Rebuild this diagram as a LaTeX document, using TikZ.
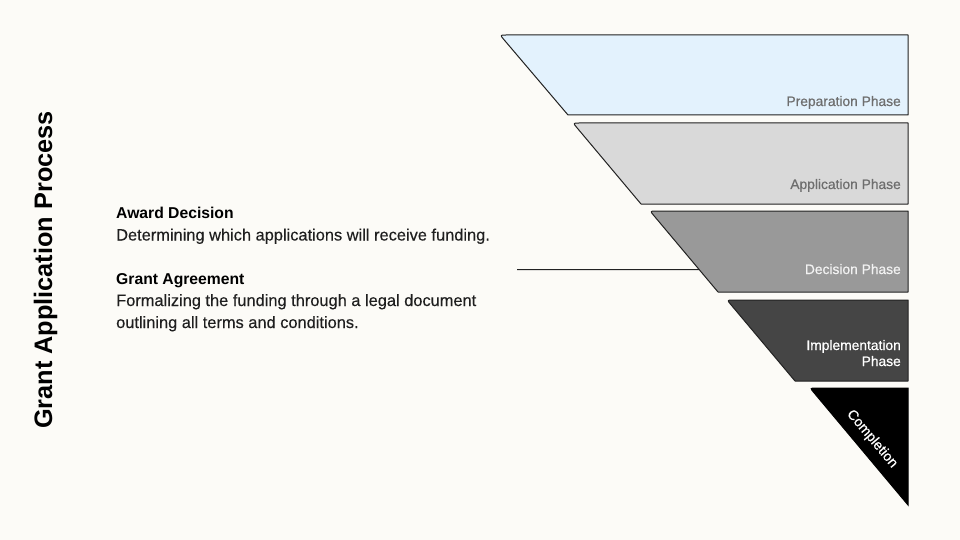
\documentclass[tikz,border=0pt]{standalone}
\usepackage{fontspec}
\setmainfont{Liberation Sans}
\newfontfamily\medfont[FakeBold=0.6]{Liberation Sans}
\newfontfamily\bodyfont[FakeBold=0.25]{Liberation Sans}
\usetikzlibrary{calc}
\definecolor{bgc}{HTML}{FCFBF7}
\definecolor{edgec}{HTML}{222222}
\definecolor{prepc}{HTML}{E3F2FD}
\definecolor{applc}{HTML}{D9D9D9}
\definecolor{decic}{HTML}{999999}
\definecolor{implc}{HTML}{454545}
\definecolor{complc}{HTML}{000000}
\definecolor{lblgray}{HTML}{6E6E6E}
\definecolor{lbllight}{HTML}{F2F2F2}
\definecolor{textc}{HTML}{1F1F1F}
\tikzset{
  bandshape/.style={draw=edgec, line width=1pt, line join=round},
  phaselabel/.style={anchor=base east, inner sep=0pt, font=\medfont\fontsize{13.8}{16}\selectfont, align=right},
  headtext/.style={anchor=base west, inner sep=0pt, font=\fontsize{15.7}{18}\selectfont\bfseries, text=black},
  bodytext/.style={anchor=base west, inner sep=0pt, font=\bodyfont\fontsize{16.4}{18}\selectfont, text=textc},
  leader/.style={draw=edgec, line width=1pt}
}
\newcommand{\fband}[5]{% top-left x, top y, bottom-left x, bottom y, fill
  \coordinate (T) at (#1,#2);
  \coordinate (B) at (#3,#4);
  \filldraw[bandshape, fill=#5]
    ($(T)+(6,0)$) -- (908,#2) -- (908,#4) -- (B) -- ($(T)!6pt!(B)$)
    .. controls (T) .. ($(T)+(6,0)$) -- cycle;
}
\begin{document}
\begin{tikzpicture}[x=1pt,y=-1pt]
\fill[bgc] (0,0) rectangle (960,540);
\useasboundingbox (0,0) rectangle (960,540);

% funnel bands
\fband{500}{35}{568}{115}{prepc}
\fband{573}{123}{641}{204}{applc}
\fband{650}{211}{718}{292}{decic}
\fband{727}{300}{795}{381}{implc}
% completion triangle
\coordinate (CT) at (810,388);
\coordinate (CB) at (908,505);
\filldraw[draw=complc, fill=complc, line width=1pt]
  ($(CT)+(6,0)$) -- (908,388) -- (CB) -- ($(CT)!6pt!(CB)$)
  .. controls (CT) .. ($(CT)+(6,0)$) -- cycle;

% phase labels
\node[phaselabel, text=lblgray] (prep) at (901,106) {Preparation Phase};
\node[phaselabel, text=lblgray] (appl) at (901,189) {Application Phase};
\node[phaselabel, text=lbllight] (deci) at (901,274) {Decision Phase};
\node[phaselabel, text=white] (impl1) at (901,350) {Implementation};
\node[phaselabel, text=white] (impl2) at (901,366) {Phase};
\node[inner sep=0pt, rotate=-50, text=white, font=\medfont\fontsize{14}{16}\selectfont] (compl) at (872,439) {Completion};

% title
\node[rotate=90, inner sep=0pt, font=\fontsize{25.3}{28}\selectfont\bfseries, text=black] (title) at (45.5,270) {Grant Application Process};

% descriptions
\node[headtext] (h1) at (116,218.5) {Award Decision};
\node[bodytext] (d1) at (116,240.5) {Determining which applications will receive funding.};
\node[headtext] (h2) at (116,284) {Grant Agreement};
\node[bodytext] (d2a) at (116,306) {Formalizing the funding through a legal document};
\node[bodytext] (d2b) at (116,328) {outlining all terms and conditions.};

% leader line
\coordinate (ls) at (517,269.5);
\coordinate (le) at ($(650,211)!{(269.5-211)/81}!(718,292)$);
\draw[leader] (ls) -- (le);
\end{tikzpicture}
\end{document}
